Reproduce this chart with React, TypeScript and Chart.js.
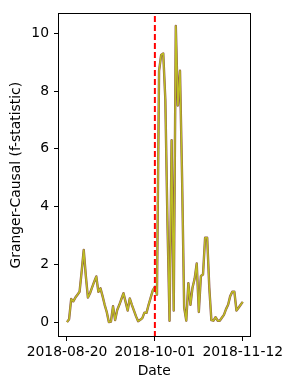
import React, { useEffect, useRef } from "react";
import { Chart, registerables } from "chart.js";
Chart.register(...registerables);

// Daily Granger-causality f-statistics, starting 2018-08-20 (day 0)
const startDate = "2018-08-20";
const grangerValues = [
  0.0, 0.1, 0.8, 0.72, 0.85, 0.95, 1.05, 1.75, 2.5, 1.6,
  0.85, 1.0, 1.2, 1.4, 1.58, 1.05, 1.17, 0.9, 0.6, 0.35,
  0.0, 0.02, 0.55, 0.07, 0.42, 0.6, 0.8, 1.0, 0.7, 0.4,
  0.82, 0.6, 0.4, 0.2, 0.03, 0.08, 0.14, 0.33, 0.32, 0.6,
  0.85, 1.1, 1.22, 0.95, 8.7, 9.25, 9.3, 7.7, 3.5, 0.05,
  6.3, 0.4, 10.25, 7.5, 8.7, 5.0, 0.5, 0.05, 1.35, 0.6,
  1.2, 1.5, 2.03, 0.35, 1.6, 1.65, 2.92, 2.92, 1.2, 0.07,
  0.05, 0.17, 0.05, 0.05, 0.15, 0.25, 0.45, 0.6, 0.9, 1.05,
  1.05, 0.4, 0.5, 0.6, 0.7,
];
const xTickDays = [0, 42, 84];
const xTickLabels = ["2018-08-20", "2018-10-01", "2018-11-12"];
const eventDay = 42; // 2018-10-01
const yTickValues = [0, 2, 4, 6, 8, 10];
const yMin = -0.515;
const yMax = 10.69;
const xMin = -4.3;
const xMax = 87.7;

const FONT = "DejaVu Sans";

const frame = {
  id: "frame",
  afterDatasetsDraw(chart: any) {
    const { ctx, chartArea: a } = chart;
    ctx.save();
    ctx.strokeStyle = "#000";
    ctx.lineWidth = 1;
    ctx.strokeRect(Math.round(a.left) + 0.5, Math.round(a.top) + 0.5, Math.round(a.right - a.left) - 1, Math.round(a.bottom - a.top) - 1);
    ctx.restore();
  },
};

export default function App() {
  const ref = useRef<HTMLCanvasElement>(null);
  useEffect(() => {
    if (!ref.current) return;
    const pts = grangerValues.map((v, i) => ({ x: i, y: v }));
    const chart = new Chart(ref.current, {
      type: "line",
      data: {
        datasets: [
          {
            label: "event " + startDate,
            data: [
              { x: eventDay, y: yMin },
              { x: eventDay, y: yMax },
            ],
            borderColor: "#ff0000",
            borderWidth: 2,
            borderDash: [6, 3],
            pointRadius: 0,
          },
          {
            label: "olive",
            data: pts,
            borderColor: "#bcbd22",
            borderWidth: 1.5,
            pointRadius: 0,
            borderJoinStyle: "round",
          },
          {
            label: "brown",
            data: pts,
            borderColor: "#8c564b",
            borderWidth: 2.4,
            pointRadius: 0,
            borderJoinStyle: "round",
          },
        ],
      },
      options: {
        animation: false,
        responsive: false,
        events: [],
        layout: { padding: { left: 0, right: 40.5, top: 11, bottom: 0 } },
        plugins: { legend: { display: false }, tooltip: { enabled: false } },
        scales: {
          x: {
            type: "linear",
            min: xMin,
            max: xMax,
            afterBuildTicks: (s: any) => {
              s.ticks = xTickDays.map((v) => ({ value: v }));
            },
            afterFit: (s: any) => {
              s.height = 53;
            },
            ticks: {
              autoSkip: false,
              maxRotation: 0,
              minRotation: 0,
              padding: 3,
              color: "#000",
              font: { family: FONT, size: 13.9 },
              callback: (v: any) => {
                const i = xTickDays.indexOf(Number(v));
                return i >= 0 ? xTickLabels[i] : "";
              },
            },
            grid: { display: true, drawOnChartArea: false, drawTicks: true, tickLength: 4, color: "#000" },
            border: { display: false },
            title: {
              display: true,
              text: "Date",
              color: "#000",
              font: { family: FONT, size: 13.9 },
              padding: { top: 0, bottom: 10 },
            },
          },
          y: {
            type: "linear",
            min: yMin,
            max: yMax,
            afterBuildTicks: (s: any) => {
              s.ticks = yTickValues.map((v) => ({ value: v }));
            },
            afterFit: (s: any) => {
              s.width = 58;
            },
            ticks: {
              padding: 5,
              color: "#000",
              font: { family: FONT, size: 13.9 },
              callback: (v: any) => String(v),
            },
            grid: { display: true, drawOnChartArea: false, drawTicks: true, tickLength: 4, color: "#000" },
            border: { display: false },
            title: {
              display: true,
              text: "Granger-Causal (f-statistic)",
              color: "#000",
              font: { family: FONT, size: 13.9 },
              padding: { top: 7.7, bottom: 0 },
            },
          },
        },
      },
      plugins: [frame],
    } as any);
    return () => chart.destroy();
  }, []);
  return (
    <div style={{ position: "fixed", left: 0, top: 0, width: 291, height: 390, background: "#fff" }}>
      <canvas ref={ref} width={291} height={390} style={{ width: 291, height: 390, display: "block" }} />
    </div>
  );
}
